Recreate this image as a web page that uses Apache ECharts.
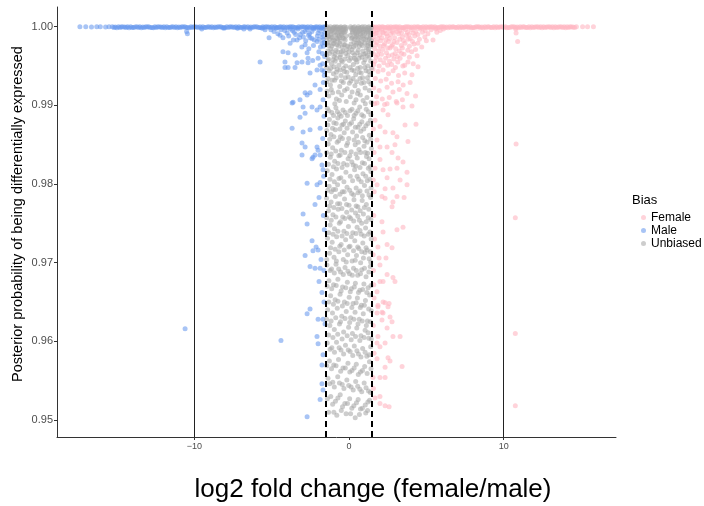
<!DOCTYPE html>
<html>
<head>
<meta charset="utf-8">
<script src="https://cdn.jsdelivr.net/npm/echarts@6/dist/echarts.min.js"></script>
<style>
  html, body { margin: 0; padding: 0; background: #fff; }
  #chart { width: 704px; height: 506px; }
</style>
</head>
<body>
<div id="chart"></div>
<script>
// Genes with posterior probability of differential expression >= 0.95,
// plotted against log2 fold change (female/male), coloured by sex bias.

const seriesNames = ['Female', 'Male', 'Unbiased'];
const xTicks = [-10, 0, 10];
const yTicks = [0.95, 0.96, 0.97, 0.98, 0.99, 1.00];
const foldCutoffs = [-1.5, 1.5];
const extremeLines = [-10, 10];

// Male-biased genes
const male = [
  [-17.40,1.0],[-17.02,1.0],[-16.65,0.99995],[-16.31,1.0],[-16.08,1.0],[-15.74,0.99995],[-15.52,1.0],[-15.30,1.0],
  [-15.11,0.99995],[-14.90,1.0],[-14.71,1.0],[-14.50,0.99995],[-14.32,1.0],[-14.12,1.0],[-13.93,0.9999],[-13.72,1.0],
  [-13.53,1.0],[-13.33,0.99995],[-13.14,1.0],[-12.95,1.0],[-12.74,0.9999],[-12.55,1.0],[-12.36,1.0],[-12.16,0.99995],
  [-11.97,1.0],[-11.78,1.0],[-11.58,0.9999],[-11.39,1.0],[-11.19,1.0],[-11.00,0.99995],[-10.81,1.0],[-10.61,1.0],
  [-10.42,0.9999],[-10.22,1.0],[-10.03,1.0],[-9.84,0.99995],[-9.64,1.0],[-9.45,1.0],[-9.26,0.9999],[-9.06,1.0],
  [-8.87,1.0],[-8.67,0.99995],[-8.48,1.0],[-8.29,1.0],[-8.09,0.9999],[-7.90,1.0],[-7.70,1.0],[-7.51,0.99995],
  [-7.32,1.0],[-7.12,1.0],[-6.93,0.9999],[-6.74,1.0],[-6.54,1.0],[-6.35,0.99995],[-6.15,1.0],[-5.96,1.0],
  [-5.77,0.9999],[-5.57,1.0],[-5.38,1.0],[-5.19,0.99995],[-4.99,1.0],[-4.80,1.0],[-4.60,0.9999],[-4.41,1.0],
  [-4.22,1.0],[-4.02,0.99995],[-3.83,1.0],[-3.63,1.0],[-3.44,0.9999],[-3.25,1.0],[-3.05,1.0],[-2.86,0.99995],
  [-2.67,1.0],[-2.47,1.0],[-2.28,0.9999],[-2.08,1.0],[-1.89,1.0],[-1.70,0.99995],[-1.56,1.0],
  [-15.20,0.9999],[-15.01,0.99985],[-14.80,0.9999],[-14.61,0.99995],[-14.41,0.9999],[-14.22,0.99985],[-14.02,0.9999],
  [-13.83,0.99995],[-13.62,0.9999],[-13.43,0.99985],[-13.24,0.9999],[-13.04,0.99995],[-12.85,0.9999],[-12.65,0.99985],
  [-12.46,0.9999],[-12.26,0.99995],[-12.07,0.9999],[-11.88,0.99985],[-11.68,0.9999],[-11.49,0.99995],[-11.29,0.9999],
  [-11.10,0.99985],[-10.91,0.9999],[-10.71,0.99995],[-10.52,0.9999],[-10.32,0.99985],[-10.13,0.9999],[-9.94,0.99995],
  [-9.74,0.9999],[-9.55,0.99985],[-9.35,0.9999],[-9.16,0.99995],[-8.97,0.9999],[-8.77,0.99985],[-8.58,0.9999],
  [-8.38,0.99995],[-8.19,0.9999],[-8.00,0.99985],[-7.80,0.9999],[-7.61,0.99995],[-7.41,0.9999],[-7.22,0.99985],
  [-7.03,0.9999],[-6.83,0.99995],[-6.64,0.9999],[-6.44,0.99985],[-6.25,0.9999],[-6.06,0.99995],[-5.86,0.9999],
  [-5.67,0.99985],[-5.47,0.9999],[-5.28,0.99995],[-5.09,0.9999],[-4.89,0.99985],[-4.70,0.9999],[-4.50,0.99995],
  [-4.31,0.9999],[-4.12,0.99985],[-3.92,0.9999],[-3.73,0.99995],[-3.53,0.9999],[-3.34,0.99985],[-3.15,0.9999],
  [-2.95,0.99995],[-2.76,0.9999],[-2.57,0.99985],[-2.37,0.9999],[-2.18,0.99995],[-1.98,0.9999],[-1.79,0.99985],
  [-1.62,0.9999],
  [-10.50,0.9994],[-10.45,0.9991],[-9.52,0.9997],[-8.10,0.9998],[-7.20,0.9998],[-6.80,0.9997],[-6.40,0.9997],
  [-5.43,0.9996],[-5.17,0.9986],[-4.46,0.9989],[-4.27,0.9986],[-3.81,0.9979],[-3.36,0.9983],[-2.84,0.9977],
  [-2.52,0.9986],[-2.07,0.9981],[-1.75,0.9979],[-4.27,0.9968],[-3.94,0.9967],[-3.49,0.9964],[-2.71,0.9967],
  [-2.65,0.9960],[-2.00,0.9960],[-5.75,0.9955],[-4.14,0.9955],[-3.36,0.9954],[-3.04,0.9955],[-2.65,0.9954],
  [-1.87,0.9951],[-4.14,0.9948],[-3.94,0.9948],[-3.49,0.9948],[-2.52,0.9941],[-2.07,0.9945],[-1.75,0.9945],
  [-2.20,0.9926],[-1.87,0.9920],[-2.84,0.9916],[-2.52,0.9916],
  [-1.62,0.9997],[-1.90,0.9995],[-2.15,0.9998],[-2.40,0.9994],[-2.70,0.9996],[-3.00,0.9993],[-3.30,0.9997],
  [-3.65,0.9995],[-4.00,0.9992],[-4.40,0.9996],[-4.85,0.9994],[-1.75,0.9990],[-2.05,0.9988],[-2.55,0.9991],
  [-2.95,0.9987],[-3.45,0.9990],[-3.90,0.9988],[-4.60,0.9991],[-1.65,0.9984],[-2.25,0.9983],
  [-1.58,0.9993],[-1.82,0.9998],[-2.00,0.9992],[-2.30,0.9997],[-2.62,0.9989],[-2.85,0.9994],[-3.15,0.9990],
  [-3.55,0.9993],[-3.80,0.9997],[-4.15,0.9995],[-4.70,0.9998],[-5.05,0.9996],[-5.60,0.9998],[-1.70,0.9987],
  [-1.95,0.9984],[-2.40,0.9985],[-2.80,0.9982],[-3.20,0.9986],[-3.60,0.9983],[-1.60,0.9980],[-1.85,0.9974],
  [-2.30,0.9976],[-2.60,0.9972],[-3.05,0.9974],[-1.58,0.9962],[-1.95,0.9968],[-2.35,0.9957],[-1.70,0.9953],
  [-1.62,0.9943],
  [-1.65,0.9975],[-1.72,0.9966],[-1.60,0.9938],[-1.66,0.9929],[-1.62,0.9886],[-1.70,0.9858],[-1.64,0.9810],
  [-1.66,0.9760],[-1.60,0.9742],[-1.62,0.9690],
  [-2.71,0.9913],[-3.17,0.9907],[-3.62,0.9904],[-3.68,0.9903],[-2.97,0.9898],[-2.39,0.9898],[-1.87,0.9898],
  [-1.68,0.9907],[-2.84,0.9890],[-3.17,0.9885],[-2.07,0.9894],[-3.68,0.9871],[-2.97,0.9866],[-2.52,0.9869],
  [-1.87,0.9871],[-3.04,0.9852],[-2.84,0.9847],[-2.07,0.9847],[-3.04,0.9837],[-2.00,0.9843],[-2.33,0.9834],
  [-2.39,0.9832],[-2.20,0.9837],[-1.87,0.9837],[-1.75,0.9824],[-1.68,0.9818],[-2.71,0.9801],[-2.07,0.9799],
  [-1.87,0.9802],[-1.94,0.9783],[-2.20,0.9774],[-2.97,0.9762],[-2.71,0.9749],[-2.39,0.9728],[-2.13,0.9720],
  [-2.33,0.9715],[-2.00,0.9716],[-2.84,0.9709],[-1.81,0.9704],[-2.52,0.9695],[-2.20,0.9693],[-1.87,0.9693],
  [-1.94,0.9676],[-1.75,0.9662],[-1.62,0.9650],[-2.52,0.9641],
  [-2.71,0.9635],[-2.00,0.9628],[-1.68,0.9628],[-1.55,0.9622],[-10.60,0.9616],[-4.40,0.9601],[-2.07,0.9606],
  [-2.00,0.9597],[-1.68,0.9583],[-1.75,0.9570],[-1.75,0.9546],[-1.68,0.9538],[-1.87,0.9526],[-2.71,0.9504]
];

// Female-biased genes
const female = [
  [1.56,1.0],[1.75,0.99995],[1.94,1.0],[2.13,1.0],[2.32,0.9999],[2.51,1.0],[2.70,1.0],[2.89,0.99995],
  [3.08,1.0],[3.27,1.0],[3.46,0.9999],[3.65,1.0],[3.84,1.0],[4.03,0.99995],[4.22,1.0],[4.41,1.0],
  [4.60,0.9999],[4.79,1.0],[4.98,1.0],[5.17,0.99995],[5.36,1.0],[5.55,1.0],[5.74,0.9999],[5.93,1.0],
  [6.12,1.0],[6.31,0.99995],[6.50,1.0],[6.69,1.0],[6.88,0.9999],[7.07,1.0],[7.26,1.0],[7.45,0.99995],
  [7.64,1.0],[7.83,1.0],[8.02,0.9999],[8.21,1.0],[8.40,1.0],[8.59,0.99995],[8.78,1.0],[8.97,1.0],
  [9.16,0.9999],[9.35,1.0],[9.54,1.0],[9.73,0.99995],[9.92,1.0],[10.11,1.0],[10.30,0.9999],[10.49,1.0],
  [10.68,1.0],[10.87,0.99995],[11.06,1.0],[11.25,1.0],[11.44,0.9999],[11.63,1.0],[11.82,1.0],[12.01,0.99995],
  [12.20,1.0],[12.39,1.0],[12.58,1.0],[12.77,0.99995],[12.96,1.0],[13.15,1.0],[13.34,1.0],[13.53,0.99995],
  [13.72,1.0],[13.91,1.0],[14.10,1.0],[14.29,1.0],[14.48,0.99995],[14.70,1.0],[15.10,1.0],[15.42,1.0],[15.80,1.0],
  [1.65,0.9999],[1.84,0.99985],[2.03,0.9999],[2.22,0.99995],[2.41,0.9999],[2.60,0.99985],[2.79,0.9999],[2.98,0.99995],
  [3.17,0.9999],[3.36,0.99985],[3.55,0.9999],[3.74,0.99995],[3.93,0.9999],[4.12,0.99985],[4.31,0.9999],[4.50,0.99995],
  [4.69,0.9999],[4.88,0.99985],[5.07,0.9999],[5.26,0.99995],[5.45,0.9999],[5.64,0.99985],[5.83,0.9999],[6.02,0.99995],
  [6.21,0.9999],[6.40,0.99985],[6.59,0.9999],[6.78,0.99995],[6.97,0.9999],[7.16,0.99985],[7.35,0.9999],[7.54,0.99995],
  [7.73,0.9999],[7.92,0.99985],[8.11,0.9999],[8.30,0.99995],[8.49,0.9999],[8.68,0.99985],[8.87,0.9999],[9.06,0.99995],
  [9.25,0.9999],[9.44,0.99985],[9.63,0.9999],[9.82,0.99995],[10.01,0.9999],[10.20,0.99985],[10.39,0.9999],[10.58,0.99995],
  [10.77,0.9999],[10.96,0.99985],[11.15,0.9999],[11.34,0.99995],[11.53,0.9999],[11.72,0.99985],[11.91,0.9999],[12.10,0.99995],
  [12.29,0.9999],[12.48,0.99985],[12.67,0.9999],[12.86,0.99995],[13.05,0.9999],[13.24,0.99985],[13.43,0.9999],[13.62,0.99995],
  [13.81,0.9999],[14.00,0.99985],[14.19,0.9999],[14.38,0.99995],[14.58,0.9999],
  [1.62,0.9998],[1.85,0.9996],[2.10,0.9997],[2.34,0.9995],[2.58,0.9998],[2.81,0.9994],[3.05,0.9997],[3.29,0.9995],
  [3.52,0.9998],[3.78,0.9993],[4.02,0.9996],[4.31,0.9994],[4.60,0.9997],[4.92,0.9995],[5.30,0.9996],[5.68,0.9993],
  [6.10,0.9997],
  [1.60,0.9994],[1.76,0.9992],[1.95,0.9995],[2.18,0.9993],[2.42,0.9991],[2.65,0.9995],[2.88,0.9992],[3.13,0.9994],
  [3.40,0.9992],[3.65,0.9996],[3.88,0.9990],[4.15,0.9992],[4.45,0.9990],[4.75,0.9993],[5.10,0.9991],[5.60,0.9997],
  [5.90,0.9995],
  [1.70,0.9991],[1.98,0.9989],[2.22,0.9992],[2.47,0.9988],[2.70,0.9990],[2.95,0.9986],[3.20,0.9991],[3.44,0.9987],
  [3.70,0.9989],[3.95,0.9985],[4.25,0.9988],[4.55,0.9984],[4.90,0.9987],[5.43,0.9983],
  [1.58,0.9987],[1.86,0.9985],[2.12,0.9986],[2.38,0.9983],[2.63,0.9985],[2.90,0.9981],[3.28,0.9984],[3.52,0.9982],
  [3.82,0.9984],[4.10,0.9981],[4.45,0.9979],[5.00,0.9982],
  [1.58,0.9983],[1.80,0.9980],[2.05,0.9982],[2.30,0.9978],[2.55,0.9981],[2.82,0.9977],[3.10,0.9980],[3.38,0.9976],
  [3.62,0.9979],[3.90,0.9975],[4.20,0.9978],[4.70,0.9974],
  [1.72,0.9977],[2.00,0.9975],[2.24,0.9976],[2.50,0.9973],[2.75,0.9975],[3.02,0.9972],[3.45,0.9973],[3.80,0.9970],
  [4.30,0.9971],
  [1.66,0.9972],[1.92,0.9969],[2.18,0.9971],[2.42,0.9967],[2.65,0.9973],[2.98,0.9966],[3.25,0.9969],[3.55,0.9965],
  [4.05,0.9968],[4.40,0.9963],
  [1.57,0.9966],[1.85,0.9964],[2.10,0.9965],[2.55,0.9963],[2.80,0.9964],[3.12,0.9962],[3.40,0.9966],[3.90,0.9961],
  [1.75,0.9961],[2.02,0.9958],[2.36,0.9960],[2.62,0.9956],[2.90,0.9959],[3.30,0.9960],[3.81,0.9955],[4.15,0.9953],
  [1.68,0.9956],[2.25,0.9954],[2.75,0.9952],[3.15,0.9955],[3.60,0.9951],
  [1.60,0.9952],[1.95,0.9950],[2.50,0.9951],[3.00,0.9948],[3.48,0.9950],[4.46,0.9949],
  [1.55,0.9946],[1.88,0.9943],[2.20,0.9945],[2.55,0.9940],[2.85,0.9944],[3.20,0.9938],[3.60,0.9941],[4.07,0.9939],
  [1.70,0.9934],[2.05,0.9931],[2.40,0.9933],[2.75,0.9928],[3.17,0.9930],[3.50,0.9926],[3.95,0.9929],
  [1.60,0.9922],[1.95,0.9919],[2.46,0.9923],[2.84,0.9917],[3.25,0.9920],[3.75,0.9915],
  [1.78,0.9911],[2.15,0.9908],[2.60,0.9910],[3.05,0.9905],[3.45,0.9907],[1.65,0.9902],[2.30,0.9901],[4.30,0.9912],
  [1.81,0.9903],[2.46,0.9902],[3.10,0.9903],[3.49,0.9898],[4.07,0.9899],[2.20,0.9894],[2.52,0.9888],[1.68,0.9881],
  [2.00,0.9873],[3.62,0.9875],[4.33,0.9876],[2.33,0.9866],[2.84,0.9865],[3.10,0.9860],[1.81,0.9856],[2.97,0.9850],
  [3.81,0.9854],[2.00,0.9847],[2.46,0.9847],[2.78,0.9840],[3.17,0.9833],[2.00,0.9831],[3.49,0.9828],[1.68,0.9820],
  [2.20,0.9818],[2.65,0.9819],[3.10,0.9820],[3.75,0.9815],[2.46,0.9808],[3.30,0.9805],[1.81,0.9799],[2.33,0.9794],
  [2.84,0.9795],[3.75,0.9799],[2.13,0.9784],[3.10,0.9784],
  [1.58,0.9870],[1.62,0.9840],[1.57,0.9805],[1.63,0.9790],[1.56,0.9710],[1.60,0.9672],[1.57,0.9620],[1.62,0.9585],
  [1.58,0.9540],
  [2.33,0.9782],[2.84,0.9777],[3.56,0.9783],[2.78,0.9771],[2.13,0.9752],[3.10,0.9742],[3.49,0.9745],[2.20,0.9739],
  [1.87,0.9720],[2.46,0.9723],[2.78,0.9719],[2.39,0.9706],[1.94,0.9706],[2.00,0.9697],[2.46,0.9685],[2.84,0.9681],
  [2.00,0.9676],[2.20,0.9676],[2.97,0.9676],[1.81,0.9663],[2.33,0.9649],[2.52,0.9644],[1.87,0.9644],[2.13,0.9637],
  [1.60,0.9760],[1.65,0.9730],[1.58,0.9690],[1.62,0.9655],
  [1.87,0.9646],[2.20,0.9650],[2.59,0.9648],[1.81,0.9636],[2.20,0.9636],[2.65,0.9631],[2.13,0.9627],[2.78,0.9625],
  [2.46,0.9617],[1.87,0.9606],[2.84,0.9606],[3.30,0.9606],[1.81,0.9598],[2.00,0.9593],[2.33,0.9598],[1.81,0.9578],
  [2.52,0.9579],[2.65,0.9575],[2.33,0.9567],[3.43,0.9568],[1.55,0.9554],[2.00,0.9554],[2.33,0.9554],[1.68,0.9528],
  [2.00,0.9530],[2.00,0.9521],[2.33,0.9518],[2.59,0.9517],
  [10.78,0.9997],[10.80,0.9992],[10.90,0.9981],[10.80,0.9851],[10.75,0.9757],[10.75,0.9610],[10.75,0.9518]
];

// Genes without sex bias
const unbiased = [
  [-1.42,1.0],[-1.30,0.9998],[-1.21,1.0],[-1.12,0.9995],[-1.03,0.9999],[-0.95,1.0],[-0.86,0.9997],[-0.78,1.0],
  [-0.70,0.9993],[-0.61,0.9999],[-0.53,1.0],[-0.45,0.9996],[-0.37,0.9999],[-0.28,1.0],[-0.20,0.9997],[0.10,1.0],
  [0.19,0.9996],[0.27,0.9999],[0.36,1.0],[0.44,0.9994],[0.52,0.9998],[0.61,1.0],[0.69,0.9995],[0.77,0.9999],
  [0.86,1.0],[0.94,0.9997],[1.03,1.0],[1.11,0.9993],[1.19,0.9999],[1.28,1.0],[1.36,0.9996],[1.44,0.9999],
  [-1.46,0.9996],[-1.35,0.9993],[-1.26,0.9997],[-1.18,0.9994],[-1.07,0.9996],[-0.99,0.9998],[-0.91,0.9994],
  [-0.82,0.9999],[-0.74,0.9996],[-0.66,0.9997],[-0.57,0.9994],[-0.49,0.9998],[-0.41,0.9993],[-0.33,0.9996],
  [-0.24,0.9994],[-0.17,0.9999],[0.14,0.9998],[0.23,0.9994],[0.32,0.9997],[0.40,0.9992],[0.48,0.9996],
  [0.57,0.9993],[0.65,0.9998],[0.73,0.9993],[0.81,0.9996],[0.90,0.9993],[0.98,0.9995],[1.07,0.9997],
  [1.15,0.9996],[1.23,0.9994],[1.32,0.9998],[1.40,0.9994],
  [-1.38,0.9991],[-1.17,0.9990],[-0.99,0.9992],[-0.74,0.9990],[-0.49,0.9991],[-0.31,0.9993],[0.22,0.9992],
  [0.48,0.9990],[0.73,0.9991],[0.99,0.9990],[1.24,0.9992],[1.40,0.9991],
  [-1.43,0.9985],[-1.33,0.9988],[-1.16,0.9987],[-1.00,0.9983],[-0.87,0.9989],[-0.72,0.9984],[-0.60,0.9986],
  [-0.47,0.9989],[-0.33,0.9985],[-0.19,0.9988],[0.09,0.9989],[0.22,0.9986],[0.35,0.9984],[0.50,0.9988],
  [0.62,0.9980],[0.77,0.9987],[0.95,0.9984],[1.16,0.9987],[1.28,0.9983],[1.38,0.9988],
  [-1.40,0.9987],[-1.25,0.9984],[-1.09,0.9986],[-0.92,0.9982],[-0.80,0.9985],[-0.64,0.9988],[-0.57,0.9981],
  [-0.41,0.9986],[-0.25,0.9983],[0.15,0.9985],[0.31,0.9980],[0.40,0.9987],[0.57,0.9983],[0.65,0.9986],
  [0.82,0.9981],[0.90,0.9988],[1.07,0.9984],[1.22,0.9979],[1.33,0.9985],[1.45,0.9982],
  [-1.40,0.9979],[-1.26,0.9980],[-1.11,0.9975],[-0.95,0.9979],[-0.78,0.9977],[-0.62,0.9979],[-0.43,0.9974],
  [-0.26,0.9977],[-0.10,0.9975],[0.13,0.9978],[0.30,0.9974],[0.49,0.9979],[0.67,0.9975],[0.86,0.9976],
  [1.03,0.9979],[1.20,0.9976],[1.37,0.9978],
  [-1.33,0.9976],[-1.18,0.9972],[-1.02,0.9978],[-0.85,0.9970],[-0.68,0.9975],[-0.50,0.9968],[-0.34,0.9977],
  [-0.16,0.9971],[0.05,0.9974],[0.24,0.9967],[0.42,0.9976],[0.59,0.9970],[0.75,0.9978],[0.97,0.9965],
  [1.13,0.9973],[1.30,0.9968],[1.42,0.9975],
  [-1.38,0.9969],[-1.25,0.9966],[-1.08,0.9968],[-0.90,0.9965],[-0.74,0.9968],[-0.55,0.9964],[-0.40,0.9969],
  [-0.22,0.9966],[0.00,0.9968],[0.19,0.9971],[0.36,0.9964],[0.53,0.9967],[0.71,0.9964],[0.90,0.9969],
  [1.07,0.9966],[1.24,0.9971],[1.44,0.9967],
  [-1.45,0.9964],[-0.97,0.9962],[-0.58,0.9961],[-0.08,0.9963],[0.35,0.9960],[0.84,0.9961],[1.18,0.9963],
  [-1.33,0.9959],[-1.03,0.9958],[-0.80,0.9960],[-0.50,0.9957],[-0.27,0.9959],[0.12,0.9960],[0.44,0.9958],
  [0.64,0.9960],[1.03,0.9958],[1.30,0.9961],
  [-1.36,0.9957],[-1.14,0.9953],[-0.90,0.9956],[-0.66,0.9951],[-0.44,0.9955],[-0.21,0.9950],[0.02,0.9957],
  [0.28,0.9952],[0.51,0.9955],[0.72,0.9948],[0.95,0.9954],[1.21,0.9950],[1.40,0.9956],[-1.28,0.9944],
  [-1.01,0.9940],[-0.77,0.9946],[-0.52,0.9938],[-0.30,0.9943],[-0.05,0.9936],[0.18,0.9945],[0.43,0.9939],
  [0.66,0.9942],[0.88,0.9935],[1.10,0.9944],[1.35,0.9939],[-1.43,0.9930],[-1.20,0.9926],[-0.93,0.9932],
  [-0.60,0.9924],[-0.37,0.9929],[-0.12,0.9921],[0.12,0.9931],[0.38,0.9925],[0.60,0.9919],[0.80,0.9928],
  [1.04,0.9922],[1.27,0.9930],[-1.31,0.9912],[-1.06,0.9916],[-0.82,0.9908],[-0.47,0.9913],[-0.18,0.9905],
  [0.08,0.9911],[0.33,0.9903],[0.55,0.9915],[0.91,0.9906],[1.16,0.9910],[1.43,0.9904],
  [-1.45,0.9948],[-1.18,0.9947],[-0.97,0.9949],[-0.82,0.9942],[-0.58,0.9945],[-0.36,0.9947],[-0.14,0.9942],
  [0.07,0.9948],[0.33,0.9944],[0.56,0.9947],[0.79,0.9941],[1.02,0.9948],[1.27,0.9943],[1.45,0.9947],
  [-1.36,0.9934],[-1.10,0.9932],[-0.83,0.9935],[-0.49,0.9931],[-0.24,0.9935],[0.02,0.9928],[0.26,0.9934],
  [0.49,0.9930],[0.71,0.9934],[0.96,0.9929],[1.19,0.9935],[1.41,0.9927],[-1.42,0.9918],[-1.15,0.9920],
  [-0.69,0.9917],[-0.29,0.9919],[0.20,0.9917],[0.73,0.9913],[1.31,0.9919],[-0.92,0.9902],[-0.62,0.9906],
  [0.45,0.9907],[1.05,0.9902],
  [-1.40,0.9896],[-1.12,0.9891],[-0.85,0.9897],[-0.63,0.9889],[-0.39,0.9894],[-0.10,0.9887],[0.19,0.9895],
  [0.45,0.9890],[0.69,0.9898],[0.94,0.9886],[1.25,0.9892],[-1.27,0.9882],[-0.98,0.9878],[-0.72,0.9884],
  [-0.46,0.9875],[-0.24,0.9880],[0.04,0.9876],[0.30,0.9883],[0.58,0.9872],[0.83,0.9879],[1.09,0.9874],
  [1.38,0.9881],[-1.44,0.9868],[-1.17,0.9863],[-0.89,0.9869],[-0.56,0.9860],[-0.31,0.9865],[-0.02,0.9858],
  [0.23,0.9866],[0.49,0.9861],[0.76,0.9867],[1.02,0.9855],[1.31,0.9862],[-1.34,0.9851],[-1.06,0.9846],
  [-0.77,0.9853],[-0.50,0.9843],[-0.16,0.9849],[0.14,0.9841],[0.40,0.9850],[0.64,0.9844],[0.97,0.9848],
  [1.20,0.9839],[1.44,0.9845],[-1.21,0.9834],[-0.93,0.9829],[-0.66,0.9836],[-0.35,0.9826],[-0.06,0.9832],
  [0.27,0.9824],[0.53,0.9833],[0.86,0.9827],[1.13,0.9835],[1.36,0.9822],[-1.41,0.9817],[-1.10,0.9812],
  [-0.81,0.9819],[-0.53,0.9808],[-0.20,0.9815],[0.08,0.9810],[0.36,0.9818],[0.62,0.9806],[0.90,0.9813],
  [1.18,0.9804],[1.41,0.9816],
  [-1.31,0.9893],[-1.00,0.9887],[-0.75,0.9892],[-0.51,0.9886],[-0.25,0.9891],[0.07,0.9893],[0.33,0.9887],
  [0.57,0.9893],[0.82,0.9888],[1.11,0.9895],[1.41,0.9888],[-1.37,0.9875],[-1.07,0.9871],[-0.83,0.9877],
  [-0.59,0.9870],[-0.36,0.9876],[-0.13,0.9871],[0.16,0.9878],[0.41,0.9872],[0.69,0.9876],[0.95,0.9870],
  [1.22,0.9877],[-1.25,0.9857],[-0.98,0.9860],[-0.67,0.9855],[-0.43,0.9858],[-0.09,0.9852],[0.33,0.9856],
  [0.60,0.9853],[0.88,0.9859],[1.16,0.9853],[1.40,0.9857],[-1.45,0.9840],[-1.15,0.9838],[-0.86,0.9842],
  [-0.57,0.9837],[-0.27,0.9840],[0.05,0.9836],[0.45,0.9838],[0.75,0.9840],[1.05,0.9840],[1.30,0.9832],
  [-1.33,0.9825],[-1.01,0.9822],[-0.72,0.9826],[-0.45,0.9821],[-0.12,0.9824],[0.18,0.9828],[0.43,0.9823],
  [0.71,0.9821],[1.00,0.9826],[1.25,0.9820],[-1.23,0.9806],[-0.95,0.9803],[-0.65,0.9807],[-0.33,0.9803],
  [0.23,0.9804],[0.52,0.9810],[0.79,0.9803],[1.08,0.9810],[1.35,0.9806],
  [-1.29,0.9797],[-1.02,0.9793],[-0.74,0.9799],[-0.43,0.9790],[-0.13,0.9796],[0.17,0.9788],[0.46,0.9795],
  [0.71,0.9791],[1.00,0.9798],[1.29,0.9786],[-1.45,0.9782],[-1.16,0.9777],[-0.88,0.9784],[-0.60,0.9775],
  [-0.29,0.9781],[0.00,0.9773],[0.32,0.9780],[0.57,0.9771],[0.85,0.9779],[1.12,0.9774],[1.39,0.9783],
  [-1.33,0.9766],[-1.04,0.9761],[-0.70,0.9768],[-0.41,0.9758],[-0.15,0.9764],[0.11,0.9756],[0.42,0.9763],
  [0.67,0.9754],[0.93,0.9762],[1.24,0.9757],[-1.22,0.9748],[-0.94,0.9743],[-0.63,0.9750],[-0.33,0.9740],
  [-0.04,0.9746],[0.24,0.9738],[0.52,0.9745],[0.79,0.9736],[1.07,0.9744],[1.35,0.9739],[-1.39,0.9731],
  [-1.09,0.9726],[-0.80,0.9733],[-0.51,0.9723],[-0.22,0.9729],[0.06,0.9721],[0.37,0.9728],[0.63,0.9718],
  [0.89,0.9725],[1.17,0.9716],[1.43,0.9730],[-1.26,0.9712],[-0.97,0.9707],[-0.66,0.9714],[-0.37,0.9704],
  [-0.09,0.9710],[0.20,0.9702],[0.48,0.9709],[0.75,0.9700],[1.03,0.9713],[1.30,0.9705],
  [-1.38,0.9792],[-1.14,0.9790],[-0.87,0.9793],[-0.59,0.9787],[-0.31,0.9790],[0.04,0.9792],[0.30,0.9786],
  [0.58,0.9789],[0.86,0.9785],[1.16,0.9791],[1.42,0.9795],[-1.26,0.9772],[-0.98,0.9770],[-0.74,0.9775],
  [-0.46,0.9769],[-0.16,0.9774],[0.17,0.9767],[0.46,0.9772],[0.72,0.9766],[0.99,0.9770],[1.28,0.9768],
  [-1.44,0.9757],[-1.15,0.9754],[-0.85,0.9758],[-0.55,0.9752],[-0.27,0.9756],[0.02,0.9758],[0.30,0.9753],
  [0.57,0.9759],[0.82,0.9750],[1.11,0.9752],[1.41,0.9755],[-1.31,0.9738],[-1.03,0.9736],[-0.72,0.9740],
  [-0.45,0.9734],[-0.14,0.9737],[0.15,0.9733],[0.45,0.9737],[0.71,0.9741],[0.98,0.9734],[1.25,0.9736],
  [-1.19,0.9719],[-0.90,0.9717],[-0.60,0.9721],[-0.31,0.9716],[-0.01,0.9720],[0.29,0.9715],[0.56,0.9720],
  [0.82,0.9714],[1.10,0.9719],[1.38,0.9714],[-1.44,0.9704],[-0.82,0.9702],[-0.18,0.9701],[0.40,0.9703],
  [0.93,0.9706],[1.40,0.9701],
  [-1.43,0.9697],[-1.13,0.9692],[-0.84,0.9698],[-0.55,0.9688],[-0.26,0.9694],[0.03,0.9686],[0.29,0.9693],
  [0.56,0.9684],[0.82,0.9691],[1.10,0.9682],[1.37,0.9695],[-1.30,0.9677],[-1.00,0.9672],[-0.72,0.9679],
  [-0.42,0.9669],[-0.11,0.9675],[0.15,0.9667],[0.41,0.9674],[0.70,0.9665],[0.96,0.9673],[1.23,0.9668],
  [-1.19,0.9658],[-0.90,0.9653],[-0.58,0.9660],[-0.30,0.9650],[0.01,0.9656],[0.26,0.9648],[0.54,0.9655],
  [0.80,0.9646],[1.06,0.9652],[1.33,0.9659],[-1.38,0.9640],[-1.07,0.9636],[-0.76,0.9642],[-0.47,0.9632],
  [-0.18,0.9638],[0.10,0.9630],[0.39,0.9637],[0.66,0.9628],[0.92,0.9635],[1.19,0.9626],[1.44,0.9639],
  [-1.24,0.9620],[-0.95,0.9615],[-0.62,0.9622],[-0.35,0.9612],[-0.03,0.9618],[0.22,0.9610],[0.50,0.9617],
  [0.77,0.9607],[1.04,0.9614],[1.28,0.9604],
  [-1.22,0.9690],[-0.95,0.9687],[-0.67,0.9692],[-0.37,0.9685],[-0.07,0.9689],[0.21,0.9684],[0.47,0.9690],
  [0.74,0.9686],[1.00,0.9693],[1.28,0.9688],[-1.41,0.9670],[-1.12,0.9667],[-0.83,0.9671],[-0.51,0.9664],
  [-0.21,0.9668],[0.08,0.9663],[0.34,0.9669],[0.61,0.9662],[0.88,0.9666],[1.15,0.9662],[1.42,0.9671],
  [-1.31,0.9650],[-1.01,0.9647],[-0.72,0.9651],[-0.43,0.9645],[-0.12,0.9648],[0.18,0.9643],[0.46,0.9649],
  [0.73,0.9643],[0.99,0.9646],[1.27,0.9641],[-1.45,0.9628],[-1.16,0.9626],[-0.86,0.9630],[-0.55,0.9625],
  [-0.26,0.9629],[0.04,0.9624],[0.31,0.9628],[0.58,0.9622],[0.85,0.9626],[1.12,0.9620],[1.37,0.9625],
  [-1.32,0.9608],[-1.04,0.9605],[-0.73,0.9609],[-0.45,0.9603],[-0.12,0.9607],[0.14,0.9602],[0.42,0.9606],
  [0.70,0.9601],[0.97,0.9605],[1.23,0.9611],[1.44,0.9603],
  [-1.41,0.9598],[-1.11,0.9592],[-0.81,0.9599],[-0.52,0.9589],[-0.23,0.9595],[0.07,0.9587],[0.34,0.9594],
  [0.61,0.9584],[0.88,0.9591],[1.15,0.9581],[1.40,0.9593],[-1.27,0.9575],[-0.99,0.9570],[-0.68,0.9577],
  [-0.39,0.9566],[-0.07,0.9572],[0.19,0.9563],[0.47,0.9571],[0.74,0.9561],[1.01,0.9568],[1.32,0.9574],
  [-1.36,0.9553],[-1.05,0.9548],[-0.73,0.9555],[-0.44,0.9545],[-0.14,0.9551],[0.13,0.9542],[0.43,0.9549],
  [0.70,0.9539],[0.98,0.9547],[1.26,0.9537],[-1.18,0.9530],[-0.88,0.9524],[-0.57,0.9532],[-0.27,0.9521],
  [0.04,0.9527],[0.31,0.9518],[0.59,0.9526],[0.86,0.9515],[1.22,0.9523],[-1.32,0.9510],[-0.79,0.9506],
  [-0.19,0.9508],[0.40,0.9503],[1.08,0.9509],
  [-1.22,0.9590],[-0.94,0.9586],[-0.64,0.9592],[-0.35,0.9584],[-0.05,0.9589],[0.24,0.9582],[0.51,0.9588],
  [0.77,0.9580],[1.04,0.9586],[1.30,0.9583],[-1.44,0.9569],[-1.13,0.9565],[-0.84,0.9569],[-0.54,0.9562],
  [-0.24,0.9566],[0.05,0.9561],[0.33,0.9566],[0.60,0.9558],[0.87,0.9563],[1.17,0.9559],[1.42,0.9565],
  [-1.25,0.9546],[-0.95,0.9542],[-0.62,0.9547],[-0.33,0.9540],[-0.02,0.9544],[0.27,0.9538],[0.56,0.9543],
  [0.82,0.9536],[1.10,0.9541],[1.38,0.9535],[-1.40,0.9527],[-1.06,0.9520],[-0.72,0.9528],[-0.42,0.9517],
  [-0.10,0.9521],[0.18,0.9515],[0.48,0.9522],[0.74,0.9514],[1.05,0.9519],[1.33,0.9525],[-0.98,0.9510],
  [-0.50,0.9512],[0.10,0.9508],[0.67,0.9507],[1.20,0.9512]
];

const colors = {
  Female: 'rgba(255,182,193,0.75)',
  Male: 'rgba(100,149,237,0.7)',
  Unbiased: 'rgba(168,168,168,0.72)'
};

const FONT = '"Liberation Sans", Arial, Helvetica, sans-serif';
const chart = echarts.init(document.getElementById('chart'), null, { renderer: 'canvas' });

function scatter(name, data) {
  return {
    name: name,
    type: 'scatter',
    data: data,
    symbol: 'circle',
    symbolSize: 5,
    itemStyle: { color: colors[name] },
    silent: true
  };
}

const axisLineStyle = { color: '#333333', width: 1 };

chart.setOption({
  animation: false,
  backgroundColor: '#ffffff',
  grid: { left: 57, right: 88, top: 7, bottom: 69, containLabel: false },
  xAxis: {
    type: 'value',
    min: -18.88,
    max: 17.26,
    splitLine: { show: false },
    axisLine: { show: true, onZero: false, lineStyle: axisLineStyle },
    axisTick: { show: true, customValues: xTicks, length: 3, lineStyle: axisLineStyle },
    axisLabel: {
      customValues: xTicks,
      margin: 5,
      fontSize: 9,
      fontFamily: FONT,
      color: '#4d4d4d',
      formatter: v => (v < 0 ? '\u2212' + Math.abs(v) : String(v))
    }
  },
  yAxis: {
    type: 'value',
    min: 0.94784,
    max: 1.0025,
    splitLine: { show: false },
    axisLine: { show: true, onZero: false, lineStyle: axisLineStyle },
    axisTick: { show: true, customValues: yTicks, length: 3, lineStyle: axisLineStyle },
    axisLabel: {
      customValues: yTicks,
      margin: 4,
      fontSize: 11,
      fontFamily: FONT,
      color: '#4d4d4d',
      formatter: v => v.toFixed(2)
    }
  },
  legend: {
    data: seriesNames,
    orient: 'vertical',
    left: 636,
    top: 206,
    icon: 'circle',
    itemWidth: 5,
    itemHeight: 5,
    itemGap: 0,
    selectedMode: false,
    textStyle: { fontSize: 12, fontFamily: FONT, color: '#000', lineHeight: 13 }
  },
  graphic: [
    {
      type: 'text', left: 632, top: 194, silent: true,
      style: { text: 'Bias', font: '13px ' + FONT, fill: '#000' }
    },
    {
      type: 'text', x: 18, y: 214, rotation: Math.PI / 2, silent: true,
      style: {
        text: 'Posterior probability of being differentially expressed',
        font: '14.5px ' + FONT, fill: '#000', align: 'center', verticalAlign: 'middle'
      }
    },
    {
      type: 'text', x: 373, y: 490, silent: true,
      style: {
        text: 'log2 fold change (female/male)',
        font: '26px ' + FONT, fill: '#000', align: 'center', verticalAlign: 'middle'
      }
    }
  ],
  series: [
    scatter('Male', male),
    scatter('Female', female),
    scatter('Unbiased', unbiased),
    {
      name: 'reference lines',
      type: 'scatter',
      data: [],
      z: 10,
      markLine: {
        silent: true,
        symbol: ['none', 'none'],
        label: { show: false },
        animation: false,
        data: [
          ...extremeLines.map(v => ({ xAxis: v, lineStyle: { color: '#222', width: 1, type: 'solid' } })),
          ...foldCutoffs.map(v => ({ xAxis: v, lineStyle: { color: '#000', width: 2, type: [6, 4] } }))
        ]
      }
    }
  ]
});
</script>
</body>
</html>
